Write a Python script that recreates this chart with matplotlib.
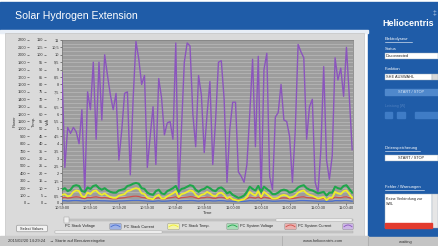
import numpy as np
import matplotlib
matplotlib.use("Agg")
import matplotlib.pyplot as plt
from matplotlib.patches import Rectangle, FancyBboxPatch
from matplotlib.ticker import MultipleLocator, FuncFormatter

plt.rcParams['font.family'] = ['Liberation Sans', 'DejaVu Sans']

# ---------------- data ----------------
time_labels = ["10:59:00", "10:59:10", "10:59:20", "10:59:30", "10:59:40", "10:59:50",
               "11:00:00", "11:00:10", "11:00:20", "11:00:30", "11:00:40"]
series_names = ["PC Stack Voltage", "PC Stack Current", "PC Stack Temp.",
                "PC System Voltage", "PC System Current"]
axis_titles = ["Power", "Temp.", "Volt"]

purple = [8.8, 2.4, 5.1, 4.7, 5.1, 4.8, 4.0, 6.3, 0.7, 7.5,
          6.3, 9.5, 4.3, 9.5, 5.6, 10.0, 8.6, 7.3, 6.3, 7.4,
          2.9, 4.9, 7.4, 7.5, 1.9, 7.0, 10.9, 9.7, 8.0, 8.6,
          2.4, 4.5, 6.5, 2.6, 8.4, 7.1, 4.6, 5.4, 5.5, 4.3,
          10.8, 0.4, 5.0, 9.5, 10.8, 10.6, 6.0, 3.8, 8.6, 7.3,
          3.4, 6.0, 8.2, 2.6, 5.6, 9.5, 9.6, 7.0, 1.4, 5.0,
          6.8, 6.8, 2.1, 1.8, 1.4, 2.6, 6.0, 9.7, 3.8, 9.9,
          0.4, 9.0, 10.1, 1.8, 0.9, 5.8, 6.1, 8.0, 5.6, 5.5,
          4.5, 1.4, 4.9, 10.7, 10.2, 9.8, 4.3, 6.5, 7.0, 1.4,
          0.7, 3.6, 9.2, 2.9, 1.6, 3.2, 9.8, 8.3, 9.1, 7.2,
          10.5, 7.2, 3.6]

green = [0.9, 1.0, 0.8, 0.9, 1.15, 1.2, 1.15, 0.8, 0.75, 1.05,
         0.95, 1.15, 1.2, 1.0, 0.9, 1.0, 0.85, 0.75, 0.7, 0.7,
         0.85, 0.9, 0.95, 1.15, 1.2, 1.3, 1.35, 1.3, 1.0, 0.95,
         0.7, 0.6, 0.55, 0.8, 0.9, 0.65, 0.6, 0.8, 0.9, 1.0,
         1.15, 0.75, 0.95, 1.0, 1.1, 1.2, 1.15, 0.9, 0.75, 0.9,
         0.95, 1.1, 1.0, 0.85, 0.8, 1.0, 1.05, 0.9, 0.65, 0.75,
         0.55, 0.45, 0.35, 0.4, 0.5, 0.75, 1.1, 0.95, 0.85, 1.15,
         0.75, 1.1, 0.95, 0.8, 0.6, 0.6, 0.7, 0.85, 0.9, 0.85,
         0.7, 0.75, 0.85, 1.05, 1.15, 1.2, 1.0, 0.9, 0.85, 0.75,
         0.65, 0.7, 0.75, 0.5, 0.7, 0.7, 1.1, 1.0, 0.95, 1.15,
         1.2, 0.95, 0.7]

yellow = [0.55, 0.6, 0.45, 0.5, 0.75, 0.85, 0.8, 0.45, 0.4, 0.7,
          0.6, 0.8, 0.85, 0.65, 0.55, 0.65, 0.5, 0.4, 0.35, 0.35,
          0.5, 0.55, 0.6, 0.8, 0.85, 0.95, 1.0, 0.95, 0.65, 0.6,
          0.35, 0.3, 0.25, 0.45, 0.55, 0.3, 0.3, 0.45, 0.55, 0.65,
          0.8, 0.4, 0.6, 0.65, 0.75, 0.85, 0.8, 0.55, 0.4, 0.55,
          0.6, 0.75, 0.65, 0.5, 0.45, 0.65, 0.7, 0.55, 0.3, 0.4,
          0.25, 0.2, 0.15, 0.2, 0.25, 0.4, 0.75, 0.6, 0.5, 0.8,
          0.4, 0.75, 0.6, 0.45, 0.3, 0.3, 0.35, 0.5, 0.55, 0.5,
          0.35, 0.4, 0.5, 0.7, 0.8, 0.85, 0.65, 0.55, 0.5, 0.4,
          0.3, 0.35, 0.4, 0.2, 0.35, 0.35, 0.75, 0.65, 0.6, 0.8,
          0.85, 0.6, 0.35]

red = [0.35, 0.38, 0.33, 0.35, 0.4, 0.42, 0.4, 0.33, 0.3, 0.38,
       0.36, 0.4, 0.42, 0.38, 0.35, 0.37, 0.34, 0.3, 0.28, 0.28,
       0.32, 0.34, 0.36, 0.4, 0.42, 0.45, 0.46, 0.44, 0.38, 0.36,
       0.3, 0.27, 0.25, 0.32, 0.35, 0.28, 0.27, 0.32, 0.35, 0.38,
       0.42, 0.3, 0.36, 0.38, 0.4, 0.43, 0.42, 0.35, 0.3, 0.35,
       0.36, 0.4, 0.38, 0.33, 0.32, 0.38, 0.39, 0.35, 0.27, 0.3,
       0.24, 0.22, 0.2, 0.22, 0.24, 0.3, 0.4, 0.36, 0.33, 0.41,
       0.3, 0.4, 0.36, 0.32, 0.27, 0.27, 0.29, 0.33, 0.35, 0.33,
       0.29, 0.3, 0.33, 0.38, 0.41, 0.42, 0.37, 0.35, 0.33, 0.3,
       0.27, 0.28, 0.3, 0.23, 0.28, 0.28, 0.4, 0.37, 0.36, 0.41,
       0.42, 0.36, 0.29]

blue = [0.15, 0.16, 0.14, 0.15, 0.17, 0.17, 0.16, 0.14, 0.13, 0.16,
        0.15, 0.16, 0.17, 0.16, 0.15, 0.15, 0.14, 0.13, 0.12, 0.12,
        0.14, 0.14, 0.15, 0.16, 0.17, 0.18, 0.18, 0.18, 0.16, 0.15,
        0.13, 0.12, 0.11, 0.13, 0.15, 0.12, 0.12, 0.13, 0.15, 0.16,
        0.17, 0.13, 0.15, 0.16, 0.16, 0.17, 0.17, 0.15, 0.13, 0.15,
        0.15, 0.16, 0.16, 0.14, 0.14, 0.16, 0.16, 0.15, 0.12, 0.13,
        0.11, 0.10, 0.10, 0.10, 0.11, 0.13, 0.16, 0.15, 0.14, 0.17,
        0.13, 0.16, 0.15, 0.14, 0.12, 0.12, 0.13, 0.14, 0.15, 0.14,
        0.12, 0.13, 0.14, 0.16, 0.17, 0.17, 0.16, 0.15, 0.14, 0.13,
        0.12, 0.12, 0.13, 0.10, 0.12, 0.12, 0.16, 0.16, 0.15, 0.17,
        0.17, 0.15, 0.12]

# ---------------- figure / UI frame ----------------
W, H = 438, 246
fig = plt.figure(figsize=(W / 100, H / 100), dpi=100)
fig.patch.set_facecolor("white")
bg = fig.add_axes([0, 0, 1, 1])
bg.set_xlim(0, W)
bg.set_ylim(H, 0)
bg.axis("off")

BLUE = "#1f5ca8"
bg.add_patch(Rectangle((0, 2), W, 28, color=BLUE))
bg.add_patch(Rectangle((368, 30), 70, 207, color=BLUE))
bg.add_patch(Rectangle((0, 30), 368, 3, color="#e8eef6"))
bg.add_patch(Rectangle((5, 33), 359, 203, facecolor="#dadada", edgecolor="#c4c4c4", lw=0.5))
# status bar
bg.add_patch(Rectangle((0, 236), 368, 10, color="#cacaca"))
bg.add_patch(Rectangle((368, 237), 70, 9, color="#c4c4c4"))
bg.plot([282, 282], [236, 246], color="#a8a8a8", lw=0.5)
bg.plot([368, 368], [236, 246], color="#a8a8a8", lw=0.5)

bg.text(15, 16, "Solar Hydrogen Extension", color="white", fontsize=7.6, va="center", ha="left")
bg.text(382, 23, "Heliocentris", color="white", fontsize=6.4, fontweight="bold", va="center", ha="left")
bg.text(433, 14, "\u2021", color="#b9cbe6", fontsize=5, va="center", ha="left")

tf = dict(color="white", fontsize=3.0, va="center", ha="left")
bg.text(385, 39, "Elektrolyseur", **tf)
bg.plot([385, 412], [41.5, 41.5], color="white", lw=0.4)
bg.text(385, 49, "Status", **tf)
bg.add_patch(Rectangle((385, 53), 53, 5.5, facecolor="white", edgecolor="#9ab", lw=0.3))
bg.text(386, 55.8, "Disconnected", color="#222", fontsize=2.8, va="center", ha="left")
bg.text(385, 69, "Funktion", **tf)
bg.add_patch(Rectangle((385, 74), 47, 6, facecolor="white", edgecolor="#9ab", lw=0.3))
bg.add_patch(Rectangle((432, 74), 6, 6, facecolor="#d8d8d8", edgecolor="#9ab", lw=0.3))
bg.text(386, 77, "SHE AUSWAHL", color="#222", fontsize=2.8, va="center", ha="left")
bg.add_patch(Rectangle((385, 89), 53, 6, color="#4f88cc"))
bg.text(411, 92, "START / STOP", color="#dce8f6", fontsize=2.8, va="center", ha="center")
bg.text(385, 106, "Leistung [W]", color="#4f80c0", fontsize=2.6, va="center", ha="left")
for x0, w0 in [(385, 7), (397, 8), (415, 23)]:
    bg.add_patch(Rectangle((x0, 112), w0, 5.5, color="#3f7cc6"))
bg.text(385, 148, "Datenspeicherung", **tf)
bg.plot([385, 420], [150.5, 150.5], color="white", lw=0.4)
bg.add_patch(Rectangle((385, 155), 53, 6, facecolor="white", edgecolor="#9ab", lw=0.3))
bg.text(411, 158, "START / STOP", color="#222", fontsize=2.8, va="center", ha="center")
bg.text(385, 187, "Fehler / Warnungen", **tf)
bg.plot([385, 424], [189.5, 189.5], color="white", lw=0.4)
bg.add_patch(Rectangle((385, 194), 47, 34, facecolor="white", edgecolor="#9ab", lw=0.3))
bg.add_patch(Rectangle((432, 194), 6, 34, facecolor="#e6e6e6", edgecolor="#9ab", lw=0.3))
bg.add_patch(Rectangle((385, 223), 47, 5, color="#e23b2e"))
bg.text(386, 197, "Keine Verbindung zur\nSWL", color="#222", fontsize=2.7, va="top", ha="left",
        linespacing=1.3)

bg.text(8, 241, "2015/02/20 14:29:24    \u2192 Starte auf Benutzereingabe", color="#333",
        fontsize=3, va="center", ha="left")
bg.text(303, 241.5, "www.heliocentris.com", color="#333", fontsize=3, va="center", ha="left")
bg.text(405, 241.5, "waiting", color="#333", fontsize=3, va="center", ha="center")

# "Select Values" button
bg.add_patch(FancyBboxPatch((17, 225.5), 30, 6, boxstyle="round,pad=0.3,rounding_size=1",
                            facecolor="#f2f2f2", edgecolor="#888", lw=0.4))
bg.text(32, 228.6, "Select Values", color="#222", fontsize=2.8, va="center", ha="center")

# scrollbars
bg.add_patch(Rectangle((64, 218.5), 289, 2.5, facecolor="#c8c8c8", edgecolor="#aaa", lw=0.3))
bg.add_patch(Rectangle((276, 218.5), 76, 2.5, facecolor="white", edgecolor="#aaa", lw=0.3))
bg.add_patch(Rectangle((64, 216.5), 5, 6, facecolor="#eeeeee", edgecolor="#999", lw=0.3))
bg.add_patch(Rectangle((55, 231), 298, 2.2, facecolor="#c8c8c8", edgecolor="#aaa", lw=0.3))
bg.add_patch(Rectangle((55, 231), 107, 2.2, facecolor="white", edgecolor="#aaa", lw=0.3))

# ---------------- chart ----------------
ax = fig.add_axes([62 / W, 1 - 203 / H, 291 / W, 163 / H])
ax.set_facecolor("#9d9d9d")
t = np.arange(len(purple))
ax.plot(t, purple, color="#8b55bd", lw=1.0, zorder=3)
ax.plot(t, blue, color="#4a6fd0", lw=0.9, zorder=4)
ax.plot(t, red, color="#cf4f4a", lw=0.9, zorder=4)
ax.plot(t, green, color="#1fa64a", lw=1.5, zorder=5)
ax.plot(t, yellow, color="#eeee2a", lw=1.3, zorder=6)
ax.set_xlim(0, 102.3)
ax.set_ylim(0, 11)

ax.set_xticks(np.arange(0, 101, 10))
ax.set_xticklabels(time_labels)
ax.set_yticks(np.arange(0, 11.01, 0.5))
ax.yaxis.set_major_formatter(FuncFormatter(lambda v, p: ("%g" % v).replace(".", ",")))
ax.yaxis.set_minor_locator(MultipleLocator(0.25))
ax.grid(which="both", axis="y", color="#bababa", lw=0.5, zorder=0)
ax.set_axisbelow(True)
ax.tick_params(axis="both", which="major", labelsize=2.8, length=1.5, width=0.4, pad=0.6,
               colors="#333333")
ax.tick_params(which="minor", left=False)
for s in ax.spines.values():
    s.set_color("#777777")
    s.set_linewidth(0.5)
ax.set_xlabel("Time", fontsize=3.2, labelpad=0.6, color="#333")
ax.set_ylabel(axis_titles[2], fontsize=3, labelpad=0.8, color="#333")

sec2 = ax.secondary_yaxis(-0.055, functions=(lambda v: v * 10, lambda v: v / 10))
sec2.set_yticks(np.arange(0, 111, 5))
sec1 = ax.secondary_yaxis(-0.113, functions=(lambda v: v * 200, lambda v: v / 200))
sec1.set_yticks(np.arange(0, 2201, 100))
for sec, title in [(sec1, axis_titles[0]), (sec2, axis_titles[1])]:
    sec.tick_params(labelsize=2.8, length=1.5, width=0.4, pad=0.6, colors="#333333")
    for s in sec.spines.values():
        s.set_visible(False)
    sec.set_ylabel(title, fontsize=3, labelpad=0.8, color="#333")

# ---------------- legend ----------------
legend_colors = [None, "#4a6fd0", "#eeee2a", "#1fa64a", "#cf4f4a"]
legend_fill = [None, "#9fb3e6", "#f4f4b0", "#a8dcb6", "#eab0ae"]
legend_x = [65, 110, 168, 227, 285]
for name, c, fc, x0 in zip(series_names, legend_colors, legend_fill, legend_x):
    if c is None:
        bg.text(x0, 226.5, name, color="#222", fontsize=2.8, va="center", ha="left")
        continue
    bg.add_patch(FancyBboxPatch((x0, 223.5), 11, 6, boxstyle="round,pad=0.2,rounding_size=1",
                                facecolor=fc, edgecolor="#888", lw=0.3))
    xx = np.linspace(x0 + 1, x0 + 10, 12)
    bg.plot(xx, 227.5 - 2.5 * np.sin((xx - x0) / 11 * np.pi), color=c, lw=0.6)
    bg.text(x0 + 13.5, 226.5, name, color="#222", fontsize=2.8, va="center", ha="left")
bg.add_patch(FancyBboxPatch((343, 223.5), 10, 6, boxstyle="round,pad=0.2,rounding_size=1",
                            facecolor="#cdb6e6", edgecolor="#888", lw=0.3))
xx = np.linspace(344, 352, 12)
bg.plot(xx, 227.5 - 2.5 * np.sin((xx - 343) / 10 * np.pi), color="#8b55bd", lw=0.6)

fig.savefig("out.png", dpi=100)
